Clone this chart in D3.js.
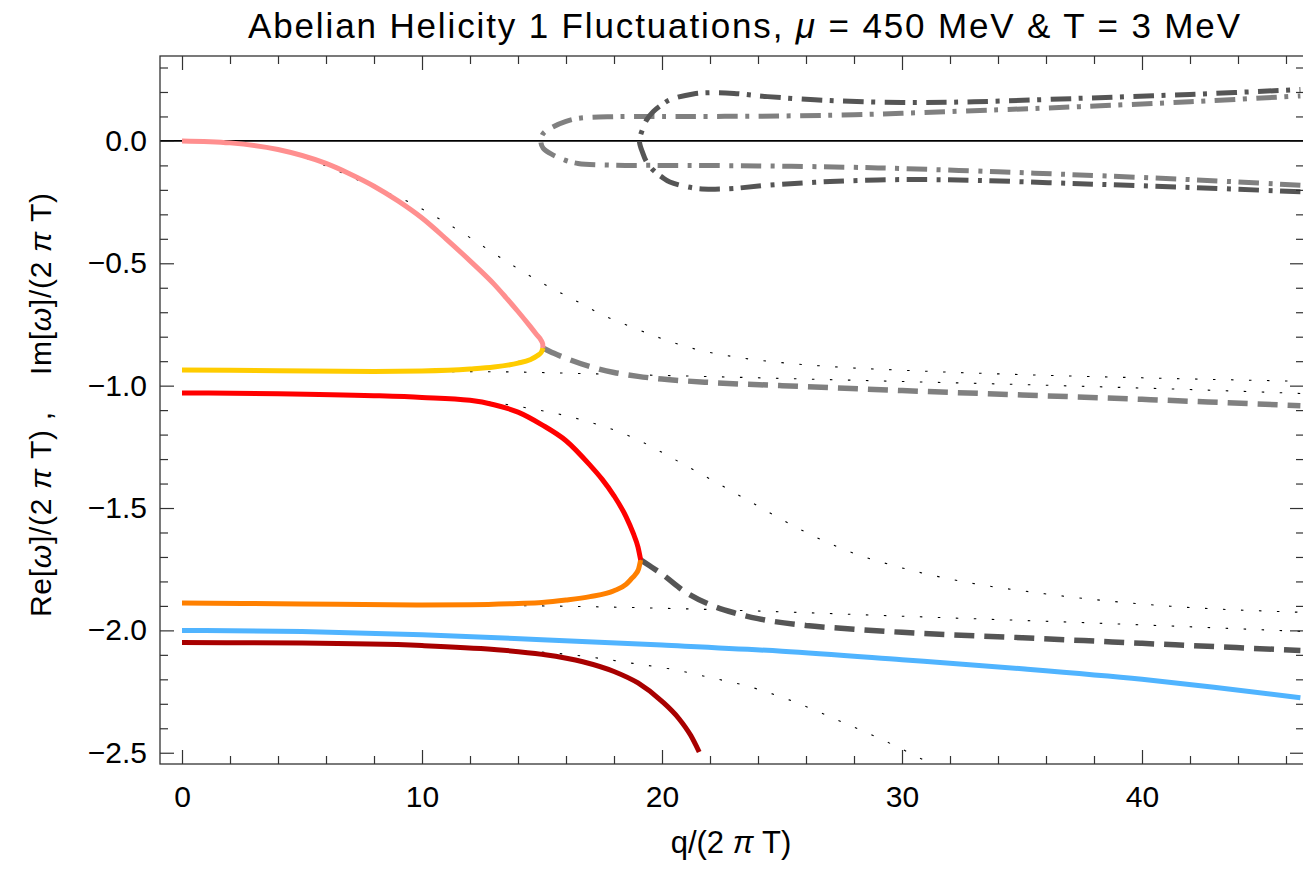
<!DOCTYPE html>
<html>
<head>
<meta charset="utf-8">
<script src="https://cdn.jsdelivr.net/npm/d3@7"></script>
<style>
  body { margin: 0; background: #fff; }
  svg { display: block; }
  text { font-family: "Liberation Sans", Arial, sans-serif; fill: #000; }
</style>
</head>
<body>
<svg id="chart" width="1303" height="880"></svg>
<script>
// Mode branches, [q/(2 pi T), omega/(2 pi T)]
const pinkMode = [[0,0],[2,-0.008],[4,-0.035],[6,-0.092],[7,-0.135],[8,-0.185],[9,-0.245],[10,-0.315],[11,-0.40],[12,-0.49],[13,-0.585],[13.5,-0.64],[14,-0.697],[14.5,-0.757],[14.78,-0.792],[14.95,-0.813],[15.03,-0.83],[15.04,-0.846]];
const yellowMode = [[0,-0.936],[4,-0.939],[8,-0.942],[10,-0.940],[12,-0.932],[13,-0.924],[14,-0.908],[14.5,-0.894],[14.8,-0.878],[14.98,-0.862],[15.04,-0.846]];
const grayDashed = [[15.04,-0.846],[15.5,-0.868],[16,-0.888],[17,-0.922],[18,-0.946],[19,-0.962],[20,-0.973],[22,-0.987],[25,-1.0],[30,-1.02],[35,-1.038],[40,-1.056],[46.6,-1.082]];
const redMode = [[0,-1.03],[4,-1.033],[8,-1.041],[10,-1.048],[12,-1.06],[13,-1.078],[14,-1.108],[15,-1.16],[16,-1.225],[17,-1.325],[17.5,-1.382],[18,-1.45],[18.5,-1.535],[18.8,-1.603],[19.0,-1.66],[19.11,-1.712]];
const orangeMode = [[0,-1.888],[5,-1.892],[10,-1.896],[12,-1.895],[14,-1.89],[15,-1.886],[16,-1.876],[17,-1.862],[18,-1.838],[18.5,-1.812],[18.7,-1.792],[18.9,-1.77],[19.02,-1.75],[19.11,-1.712]];
const darkDashed = [[19.11,-1.712],[19.5,-1.737],[20,-1.77],[21,-1.845],[22,-1.895],[23,-1.928],[24,-1.952],[26,-1.98],[28,-1.995],[30,-2.008],[35,-2.03],[40,-2.053],[46.6,-2.082]];
const blueMode = [[0,-2.0],[5,-2.005],[10,-2.018],[15,-2.038],[20,-2.06],[25,-2.085],[30,-2.12],[35,-2.157],[40,-2.2],[43,-2.232],[46.6,-2.275]];
const darkRedMode = [[0,-2.05],[5,-2.052],[10,-2.062],[13,-2.078],[15,-2.098],[16.7,-2.128],[18,-2.168],[19,-2.215],[20,-2.29],[20.7,-2.36],[21.2,-2.43],[21.55,-2.497]];

// thin dotted reference curves
const dotA = [[0,0],[3,-0.02],[5,-0.065],[6.7,-0.132],[8.1,-0.194],[9.5,-0.252],[10.8,-0.323],[12,-0.395],[13,-0.46],[14,-0.522],[15,-0.58],[16.6,-0.663],[17.5,-0.71],[18.7,-0.759],[20,-0.808],[21.4,-0.851],[23,-0.882],[25,-0.906],[27.5,-0.925],[30,-0.937],[35,-0.955],[40,-0.968],[46.6,-0.982]];
const dotB = [[0,-0.936],[8,-0.942],[12.7,-0.943],[17.3,-0.952],[22,-0.963],[26,-0.973],[30,-0.983],[34,-0.993],[38,-1.004],[42,-1.016],[46.6,-1.032]];
const dotC = [[0,-1.03],[8,-1.041],[12,-1.058],[14.2,-1.088],[16.4,-1.133],[18.5,-1.2],[21.2,-1.338],[23.8,-1.481],[25.75,-1.587],[27.8,-1.678],[29.9,-1.742],[32.5,-1.8],[35.75,-1.848],[41,-1.9],[46.6,-1.926]];
const dotD = [[0,-1.888],[10,-1.896],[15,-1.9],[21,-1.912],[25.5,-1.926],[30,-1.942],[38,-1.97],[46.6,-2.004]];
const dotE = [[0,-2.05],[8,-2.058],[13.5,-2.08],[15.75,-2.095],[16.7,-2.105],[18.8,-2.135],[20.2,-2.155],[22.3,-2.199],[23.1,-2.216],[25.3,-2.284],[27.4,-2.37],[29.4,-2.457],[31.5,-2.56]];

// dot-dashed loops (upper and lower branches)
const grayLoopUpper = [[14.95,0],[15.05,0.03],[15.47,0.058],[16,0.08],[16.5,0.092],[18,0.099],[20,0.1],[24,0.101],[28,0.107],[30,0.113],[34,0.127],[37.4,0.14],[42,0.16],[46.6,0.184]];
const grayLoopLower = [[14.95,0],[15.05,-0.03],[15.47,-0.058],[16,-0.08],[16.5,-0.092],[18,-0.099],[20,-0.1],[24,-0.102],[28,-0.108],[30,-0.113],[34,-0.126],[37.4,-0.139],[42,-0.158],[46.6,-0.181]];
const darkLoopUpper = [[19.06,0],[19.2,0.05],[19.36,0.086],[19.64,0.12],[20,0.148],[20.33,0.168],[21.3,0.192],[22.1,0.197],[23,0.194],[24.4,0.181],[27,0.165],[30,0.157],[33,0.16],[37.4,0.174],[42,0.19],[46.6,0.21]];
const darkLoopLower = [[19.06,0],[19.2,-0.05],[19.36,-0.086],[19.64,-0.12],[20,-0.148],[20.33,-0.168],[21.3,-0.192],[22.1,-0.197],[23,-0.194],[24.4,-0.181],[27,-0.166],[30,-0.158],[33,-0.161],[37.4,-0.175],[42,-0.19],[46.6,-0.208]];

// ticks
const xMajor = [0, 10, 20, 30, 40];
const xMinor = [2, 4, 6, 8, 12, 14, 16, 18, 22, 24, 26, 28, 32, 34, 36, 38, 42, 44, 46];
const yMajor = [-2.5, -2.0, -1.5, -1.0, -0.5, 0.0];
const yMinor = [-2.4, -2.3, -2.2, -2.1, -1.9, -1.8, -1.7, -1.6, -1.4, -1.3, -1.2, -1.1, -0.9, -0.8, -0.7, -0.6, -0.4, -0.3, -0.2, -0.1, 0.1, 0.2, 0.3];

// Layout
const margin = { top: 56, right: -1, bottom: 116, left: 160 };
const width = 1303, height = 880;
const svg = d3.select('#chart');

const x = d3.scaleLinear().domain([-0.917, 46.75]).range([margin.left, width - margin.right]);
const y = d3.scaleLinear().domain([-2.546, 0.347]).range([height - margin.bottom, margin.top]);

const fmt = d => d3.format('.1f')(d).replace('-', '\u2212');

svg.append('defs').append('clipPath').attr('id', 'plot-clip')
    .append('rect')
    .attr('x', x.range()[0]).attr('y', y.range()[1])
    .attr('width', x.range()[1] - x.range()[0])
    .attr('height', y.range()[0] - y.range()[1]);

// monotone in q for the branches, catmull-rom for the closed-ish loops
const line = d3.line()
    .x(d => x(d[0]))
    .y(d => y(d[1]))
    .curve(d3.curveMonotoneX);
const loopLine = d3.line()
    .x(d => x(d[0]))
    .y(d => y(d[1]))
    .curve(d3.curveCatmullRom.alpha(0.5));

const plot = svg.append('g').attr('clip-path', 'url(#plot-clip)');

// Dotted reference curves
[dotA, dotB, dotC, dotD, dotE].forEach(data => {
    plot.append('path')
        .attr('d', line(data))
        .attr('fill', 'none')
        .attr('stroke', '#000')
        .attr('stroke-width', 1.1)
        .attr('stroke-dasharray', '2.5,15.5');
});

// Zero line
plot.append('line')
    .attr('x1', x.range()[0]).attr('x2', x.range()[1])
    .attr('y1', y(0)).attr('y2', y(0))
    .attr('stroke', '#000')
    .attr('stroke-width', 1.6);

// Dot-dashed loops
const loops = [
    { upper: grayLoopUpper, lower: grayLoopLower, color: '#808080' },
    { upper: darkLoopUpper, lower: darkLoopLower, color: '#555555' }
];
loops.forEach(l => {
    const pts = l.lower.slice().reverse().concat(l.upper.slice(1));
    plot.append('path')
        .attr('d', loopLine(pts))
        .attr('fill', 'none')
        .attr('stroke', l.color)
        .attr('stroke-width', 5)
        .attr('stroke-dasharray', '20.5,7.5,4,9.5');
});

// Dashed continuations
[[grayDashed, '#808080'], [darkDashed, '#555555']].forEach(([data, color]) => {
    plot.append('path')
        .attr('d', line(data))
        .attr('fill', 'none')
        .attr('stroke', color)
        .attr('stroke-width', 5.5)
        .attr('stroke-dasharray', '20,10');
});

// Solid mode curves
const solids = [
    [darkRedMode, '#a80000'],
    [blueMode, '#50b4ff'],
    [orangeMode, '#ff8000'],
    [redMode, '#ff0000'],
    [yellowMode, '#ffcc00'],
    [pinkMode, '#ff8f8f']
];
solids.forEach(([data, color]) => {
    plot.append('path')
        .attr('d', line(data))
        .attr('fill', 'none')
        .attr('stroke', color)
        .attr('stroke-width', 5)
        .attr('stroke-linejoin', 'round');
});

// Frame
svg.append('rect')
    .attr('x', x.range()[0]).attr('y', y.range()[1])
    .attr('width', x.range()[1] - x.range()[0])
    .attr('height', y.range()[0] - y.range()[1])
    .attr('fill', 'none')
    .attr('stroke', '#333')
    .attr('stroke-width', 1.3);

// Axes
function styleAxis(g) {
    g.select('.domain').remove();
    g.selectAll('.tick line').attr('stroke', '#333').attr('stroke-width', 1.2);
    g.selectAll('.tick text').attr('font-size', 30).attr('fill', '#000')
        .attr('font-family', '"Liberation Sans", Arial, sans-serif');
}
const yB = y.range()[0], yT = y.range()[1], xL = x.range()[0], xR = x.range()[1];

svg.append('g').attr('transform', `translate(0,${yB})`)
    .call(d3.axisBottom(x).tickValues(xMajor).tickSizeInner(-14).tickSizeOuter(0).tickPadding(22).tickFormat(d3.format('d')))
    .call(styleAxis);
svg.append('g').attr('transform', `translate(0,${yB})`)
    .call(d3.axisBottom(x).tickValues(xMinor).tickSizeInner(-8).tickSizeOuter(0).tickFormat(''))
    .call(styleAxis);
svg.append('g').attr('transform', `translate(0,${yT})`)
    .call(d3.axisTop(x).tickValues(xMajor).tickSizeInner(-14).tickSizeOuter(0).tickFormat(''))
    .call(styleAxis);
svg.append('g').attr('transform', `translate(0,${yT})`)
    .call(d3.axisTop(x).tickValues(xMinor).tickSizeInner(-8).tickSizeOuter(0).tickFormat(''))
    .call(styleAxis);
svg.append('g').attr('transform', `translate(${xL},0)`)
    .call(d3.axisLeft(y).tickValues(yMajor).tickSizeInner(-14).tickSizeOuter(0).tickPadding(13).tickFormat(fmt))
    .call(styleAxis);
svg.append('g').attr('transform', `translate(${xL},0)`)
    .call(d3.axisLeft(y).tickValues(yMinor).tickSizeInner(-8).tickSizeOuter(0).tickFormat(''))
    .call(styleAxis);
svg.append('g').attr('transform', `translate(${xR},0)`)
    .call(d3.axisRight(y).tickValues(yMajor).tickSizeInner(-14).tickSizeOuter(0).tickFormat(''))
    .call(styleAxis);
svg.append('g').attr('transform', `translate(${xR},0)`)
    .call(d3.axisRight(y).tickValues(yMinor).tickSizeInner(-8).tickSizeOuter(0).tickFormat(''))
    .call(styleAxis);

// Title
const title = svg.append('text')
    .attr('x', 744).attr('y', 38)
    .attr('text-anchor', 'middle')
    .attr('font-size', 35)
    .attr('textLength', 992)
    .attr('lengthAdjust', 'spacing');
title.append('tspan').text('Abelian Helicity 1 Fluctuations, ');
title.append('tspan').attr('font-style', 'italic').text('\u03bc');
title.append('tspan').text(' = 450 MeV & T = 3 MeV');

// X label
const xl = svg.append('text')
    .attr('x', 731).attr('y', 853)
    .attr('text-anchor', 'middle')
    .attr('font-size', 31);
xl.append('tspan').text('q/(2 ');
xl.append('tspan').attr('font-style', 'italic').text('\u03c0');
xl.append('tspan').text(' T)');

// Y label
const yl = svg.append('text')
    .attr('transform', 'translate(51,405) rotate(-90)')
    .attr('text-anchor', 'middle')
    .attr('font-size', 30)
    .attr('textLength', 424)
    .attr('lengthAdjust', 'spacing')
    .style('white-space', 'pre');
yl.append('tspan').text('Re[');
yl.append('tspan').attr('font-style', 'italic').text('\u03c9');
yl.append('tspan').text(']/(2 ');
yl.append('tspan').attr('font-style', 'italic').text('\u03c0');
yl.append('tspan').text(' T) ,    Im[');
yl.append('tspan').attr('font-style', 'italic').text('\u03c9');
yl.append('tspan').text(']/(2 ');
yl.append('tspan').attr('font-style', 'italic').text('\u03c0');
yl.append('tspan').text(' T)');
</script>
</body>
</html>
